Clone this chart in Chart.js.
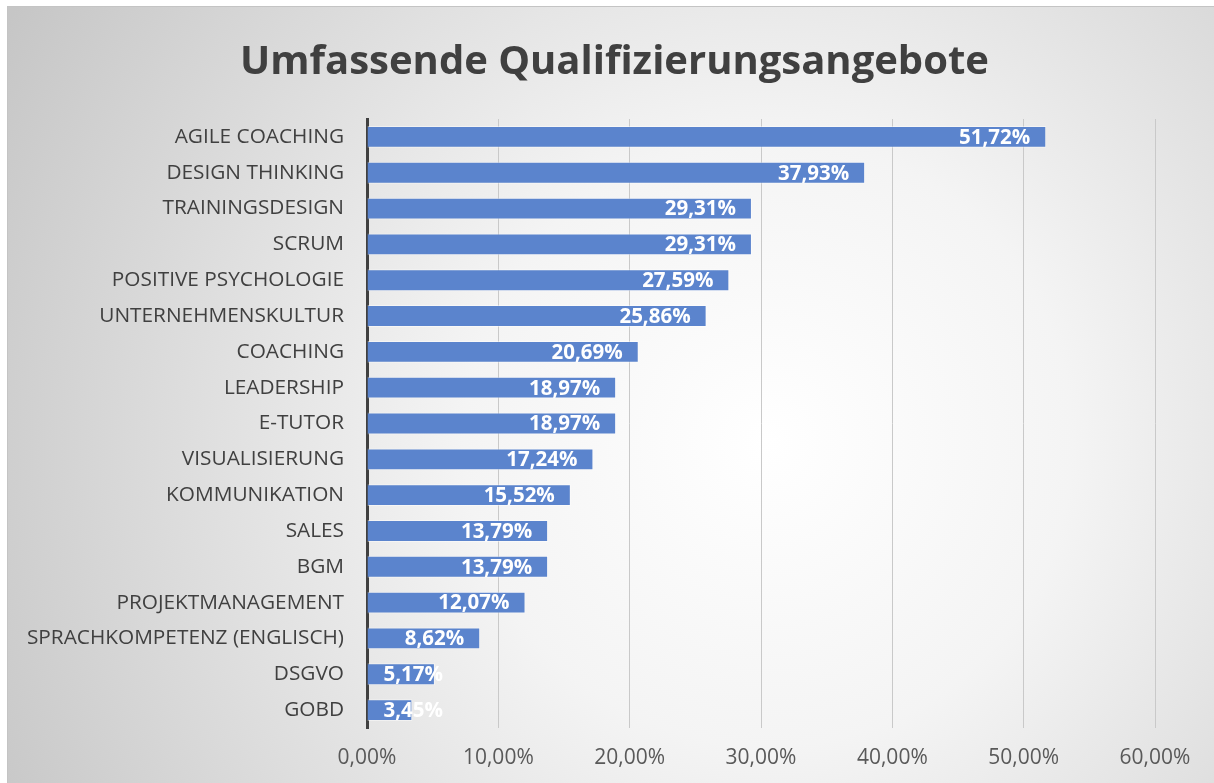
<!DOCTYPE html>
<html>
<head>
<meta charset="utf-8">
<script src="https://cdn.jsdelivr.net/npm/chart.js@4/dist/chart.umd.min.js"></script>
<style>
  html, body { margin: 0; padding: 0; background: #ffffff; }
  #frame { position: absolute; left: 7px; top: 6px; width: 1207px; height: 777px; border-left: 1px solid #c4c4c4; border-top: 1px solid #c4c4c4; }
  #c { display: block; }
</style>
</head>
<body>
<div id="frame"><canvas id="c" width="1207" height="777"></canvas></div>
<script>
const chartTitle = 'Umfassende Qualifizierungsangebote';
const categories = [
  'AGILE COACHING', 'DESIGN THINKING', 'TRAININGSDESIGN', 'SCRUM',
  'POSITIVE PSYCHOLOGIE', 'UNTERNEHMENSKULTUR', 'COACHING', 'LEADERSHIP',
  'E-TUTOR', 'VISUALISIERUNG', 'KOMMUNIKATION', 'SALES', 'BGM',
  'PROJEKTMANAGEMENT', 'SPRACHKOMPETENZ (ENGLISCH)', 'DSGVO', 'GOBD'
];
const values = [51.72, 37.93, 29.31, 29.31, 27.59, 25.86, 20.69, 18.97, 18.97, 17.24, 15.52, 13.79, 13.79, 12.07, 8.62, 5.17, 3.45];
const xTickValues = [0, 10, 20, 30, 40, 50, 60];

const fmt = v => v.toFixed(2).replace('.', ',') + '%';
const FONT = "'Open Sans', 'DejaVu Sans', sans-serif";

const bgPlugin = {
  id: 'bg',
  beforeDraw(chart) {
    const ctx = chart.ctx, w = chart.width, h = chart.height;
    const g = ctx.createRadialGradient(w * 0.63, h * 0.56, 0, w * 0.63, h * 0.56, w * 0.72);
    g.addColorStop(0, '#ffffff');
    g.addColorStop(0.35, '#f4f4f4');
    g.addColorStop(1, '#c6c6c6');
    ctx.save();
    ctx.fillStyle = g;
    ctx.fillRect(0, 0, w, h);
    ctx.font = "bold 40px " + FONT;
    ctx.fillStyle = '#404040';
    ctx.textAlign = 'center';
    ctx.textBaseline = 'middle';
    ctx.fillText(chartTitle, w / 2 + 3, 56);
    ctx.restore();
  }
};

const labelPlugin = {
  id: 'barLabels',
  afterDatasetsDraw(chart) {
    const ctx = chart.ctx;
    const meta = chart.getDatasetMeta(0);
    ctx.save();
    ctx.font = "bold 20.5px " + FONT;
    ctx.fillStyle = '#ffffff';
    ctx.textBaseline = 'middle';
    ctx.textAlign = 'left';
    meta.data.forEach((bar, i) => {
      const txt = fmt(values[i]);
      const w = ctx.measureText(txt).width;
      const x = Math.max(bar.base + 16, bar.x - 16 - w);
      ctx.fillText(txt, x, bar.y + 1);
    });
    ctx.restore();
  }
};

new Chart(document.getElementById('c'), {
  type: 'bar',
  data: {
    labels: categories,
    datasets: [{
      data: values,
      backgroundColor: '#5b84cd',
      borderColor: 'rgba(255,255,255,0.45)',
      borderWidth: 1,
      barPercentage: 1,
      categoryPercentage: 0.61
    }]
  },
  options: {
    indexAxis: 'y',
    responsive: false,
    animation: false,
    layout: { padding: { left: 0, right: 60, top: 112, bottom: 0 } },
    plugins: {
      legend: { display: false },
      tooltip: { enabled: false },
      title: { display: false }
    },
    scales: {
      x: {
        min: 0, max: 60,
        afterBuildTicks(scale) { scale.ticks = xTickValues.map(v => ({ value: v })); },
        afterFit(scale) { scale.height = 56; },
        ticks: {
          color: '#595959',
          font: { family: FONT, size: 21 },
          padding: 17,
          callback: v => fmt(v)
        },
        grid: { color: '#c9c9c9', lineWidth: 1, drawTicks: false },
        border: { display: false }
      },
      y: {
        afterFit(scale) { scale.width = 359; },
        ticks: {
          color: '#404040',
          font: { family: FONT, size: 20.8 },
          padding: 23
        },
        grid: { display: false, drawTicks: false },
        border: { display: true, color: '#404040', width: 3 }
      }
    }
  },
  plugins: [bgPlugin, labelPlugin]
});
</script>
</body>
</html>
